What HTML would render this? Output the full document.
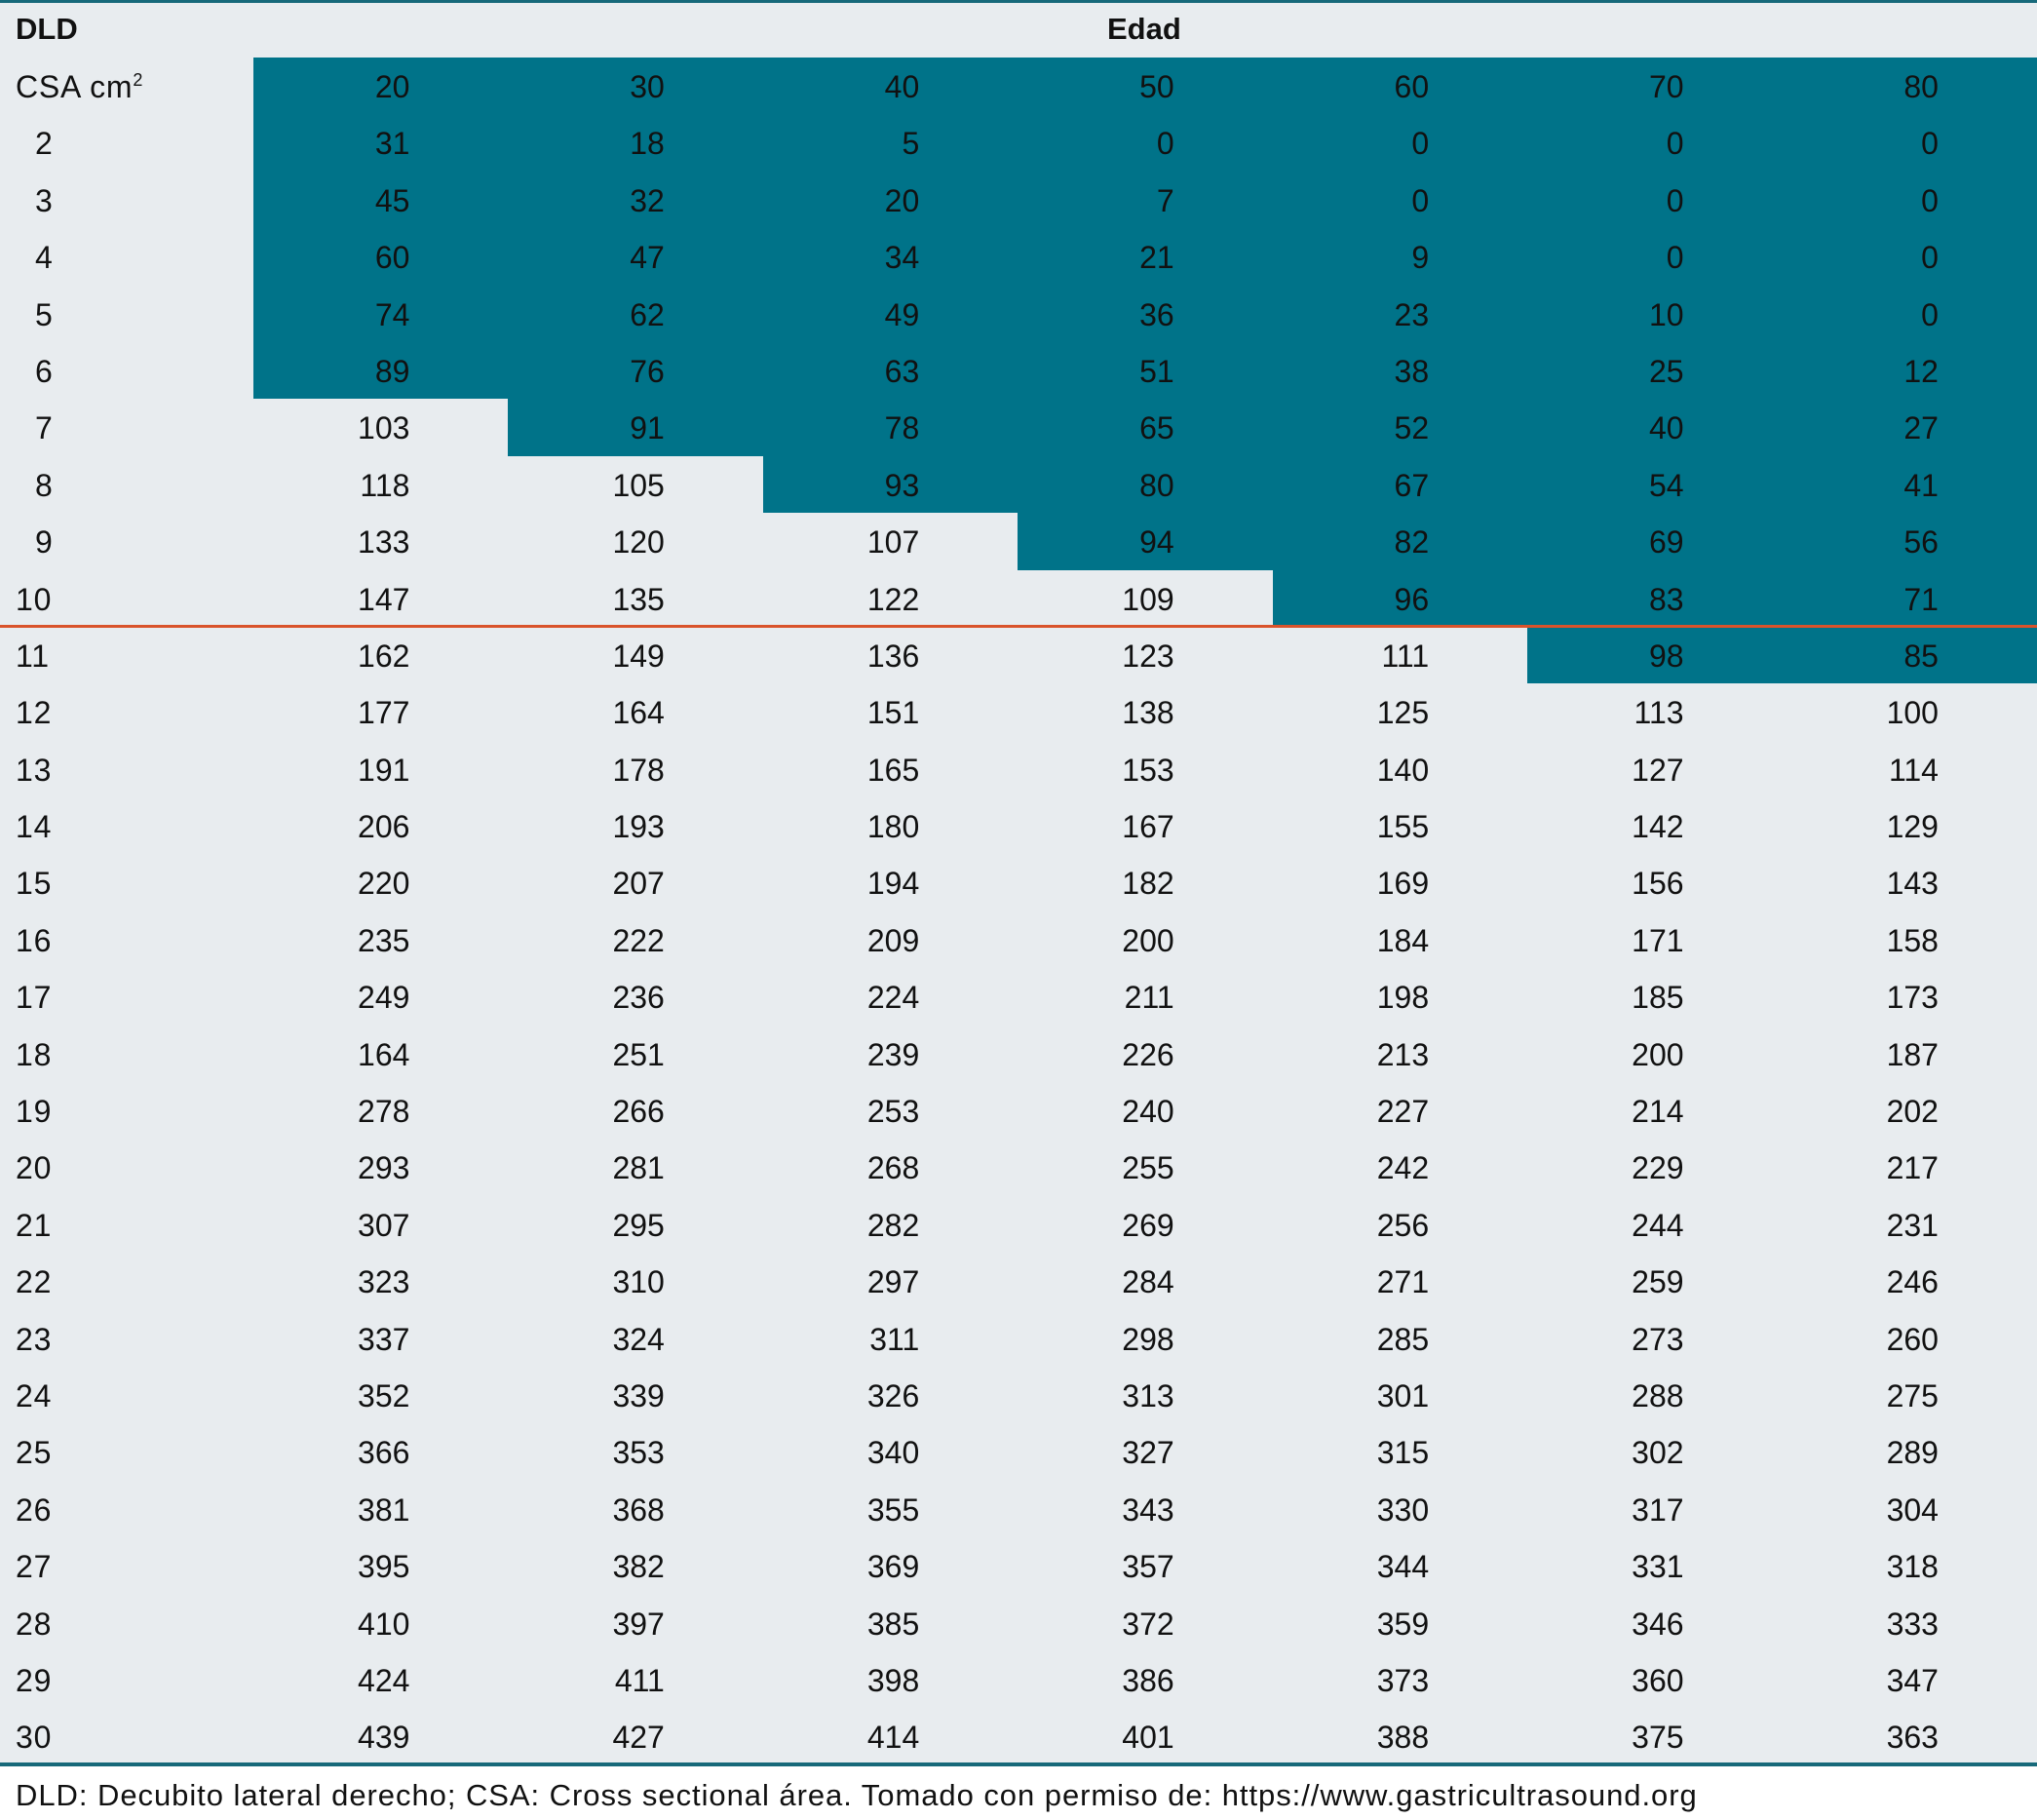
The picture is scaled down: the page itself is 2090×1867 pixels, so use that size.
<!DOCTYPE html>
<html><head><meta charset="utf-8"><style>
*{margin:0;padding:0;box-sizing:border-box}
body{width:2090px;height:1867px;background:#fff;font-family:"Liberation Sans Narrow","Liberation Sans",sans-serif;color:#111;position:relative;overflow:hidden}
#tbl{position:absolute;left:0;top:0;width:2090px;height:1811px;background:#e8ecef;border-top:3px solid #17697a}
.h{height:56px;position:relative;font-weight:bold;font-size:31px;font-family:"Liberation Sans",sans-serif}
.r{display:flex;height:58.4px;line-height:60px;font-size:32px}
.r div{width:261.43px;text-align:right;padding-right:101px}
.r div:first-child{width:260px;text-align:left;padding-left:16px;padding-right:0;letter-spacing:0.8px}
.r div.s{padding-left:36px}
.t{background:#007389}
#red{position:absolute;left:0;top:641px;width:2090px;height:3px;background:#d9532b}
#bot{position:absolute;left:0;top:1808px;width:2090px;height:4px;background:#17697a}
#foot{position:absolute;left:16px;top:1819px;font-size:31px;line-height:46px;color:#111;letter-spacing:0.95px}
</style></head><body>
<div id="tbl">
<div class="h"><span style="position:absolute;left:16px;top:9px">DLD</span><span style="position:absolute;left:1136px;top:9px">Edad</span></div>
<div class="r"><div>CSA cm<sup style="font-size:18px;vertical-align:12px;line-height:0">2</sup></div><div class="t">20</div><div class="t">30</div><div class="t">40</div><div class="t">50</div><div class="t">60</div><div class="t">70</div><div class="t">80</div></div>
<div class="r"><div class="s">2</div><div class="t">31</div><div class="t">18</div><div class="t">5</div><div class="t">0</div><div class="t">0</div><div class="t">0</div><div class="t">0</div></div>
<div class="r"><div class="s">3</div><div class="t">45</div><div class="t">32</div><div class="t">20</div><div class="t">7</div><div class="t">0</div><div class="t">0</div><div class="t">0</div></div>
<div class="r"><div class="s">4</div><div class="t">60</div><div class="t">47</div><div class="t">34</div><div class="t">21</div><div class="t">9</div><div class="t">0</div><div class="t">0</div></div>
<div class="r"><div class="s">5</div><div class="t">74</div><div class="t">62</div><div class="t">49</div><div class="t">36</div><div class="t">23</div><div class="t">10</div><div class="t">0</div></div>
<div class="r"><div class="s">6</div><div class="t">89</div><div class="t">76</div><div class="t">63</div><div class="t">51</div><div class="t">38</div><div class="t">25</div><div class="t">12</div></div>
<div class="r"><div class="s">7</div><div>103</div><div class="t">91</div><div class="t">78</div><div class="t">65</div><div class="t">52</div><div class="t">40</div><div class="t">27</div></div>
<div class="r"><div class="s">8</div><div>118</div><div>105</div><div class="t">93</div><div class="t">80</div><div class="t">67</div><div class="t">54</div><div class="t">41</div></div>
<div class="r"><div class="s">9</div><div>133</div><div>120</div><div>107</div><div class="t">94</div><div class="t">82</div><div class="t">69</div><div class="t">56</div></div>
<div class="r"><div>10</div><div>147</div><div>135</div><div>122</div><div>109</div><div class="t">96</div><div class="t">83</div><div class="t">71</div></div>
<div class="r"><div>11</div><div>162</div><div>149</div><div>136</div><div>123</div><div>111</div><div class="t">98</div><div class="t">85</div></div>
<div class="r"><div>12</div><div>177</div><div>164</div><div>151</div><div>138</div><div>125</div><div>113</div><div>100</div></div>
<div class="r"><div>13</div><div>191</div><div>178</div><div>165</div><div>153</div><div>140</div><div>127</div><div>114</div></div>
<div class="r"><div>14</div><div>206</div><div>193</div><div>180</div><div>167</div><div>155</div><div>142</div><div>129</div></div>
<div class="r"><div>15</div><div>220</div><div>207</div><div>194</div><div>182</div><div>169</div><div>156</div><div>143</div></div>
<div class="r"><div>16</div><div>235</div><div>222</div><div>209</div><div>200</div><div>184</div><div>171</div><div>158</div></div>
<div class="r"><div>17</div><div>249</div><div>236</div><div>224</div><div>211</div><div>198</div><div>185</div><div>173</div></div>
<div class="r"><div>18</div><div>164</div><div>251</div><div>239</div><div>226</div><div>213</div><div>200</div><div>187</div></div>
<div class="r"><div>19</div><div>278</div><div>266</div><div>253</div><div>240</div><div>227</div><div>214</div><div>202</div></div>
<div class="r"><div>20</div><div>293</div><div>281</div><div>268</div><div>255</div><div>242</div><div>229</div><div>217</div></div>
<div class="r"><div>21</div><div>307</div><div>295</div><div>282</div><div>269</div><div>256</div><div>244</div><div>231</div></div>
<div class="r"><div>22</div><div>323</div><div>310</div><div>297</div><div>284</div><div>271</div><div>259</div><div>246</div></div>
<div class="r"><div>23</div><div>337</div><div>324</div><div>311</div><div>298</div><div>285</div><div>273</div><div>260</div></div>
<div class="r"><div>24</div><div>352</div><div>339</div><div>326</div><div>313</div><div>301</div><div>288</div><div>275</div></div>
<div class="r"><div>25</div><div>366</div><div>353</div><div>340</div><div>327</div><div>315</div><div>302</div><div>289</div></div>
<div class="r"><div>26</div><div>381</div><div>368</div><div>355</div><div>343</div><div>330</div><div>317</div><div>304</div></div>
<div class="r"><div>27</div><div>395</div><div>382</div><div>369</div><div>357</div><div>344</div><div>331</div><div>318</div></div>
<div class="r"><div>28</div><div>410</div><div>397</div><div>385</div><div>372</div><div>359</div><div>346</div><div>333</div></div>
<div class="r"><div>29</div><div>424</div><div>411</div><div>398</div><div>386</div><div>373</div><div>360</div><div>347</div></div>
<div class="r"><div>30</div><div>439</div><div>427</div><div>414</div><div>401</div><div>388</div><div>375</div><div>363</div></div>
</div>
<div id="red"></div>
<div id="bot"></div>
<div id="foot">DLD: Decubito lateral derecho; CSA: Cross sectional área. Tomado con permiso de: https://www.gastricultrasound.org</div>
</body></html>
